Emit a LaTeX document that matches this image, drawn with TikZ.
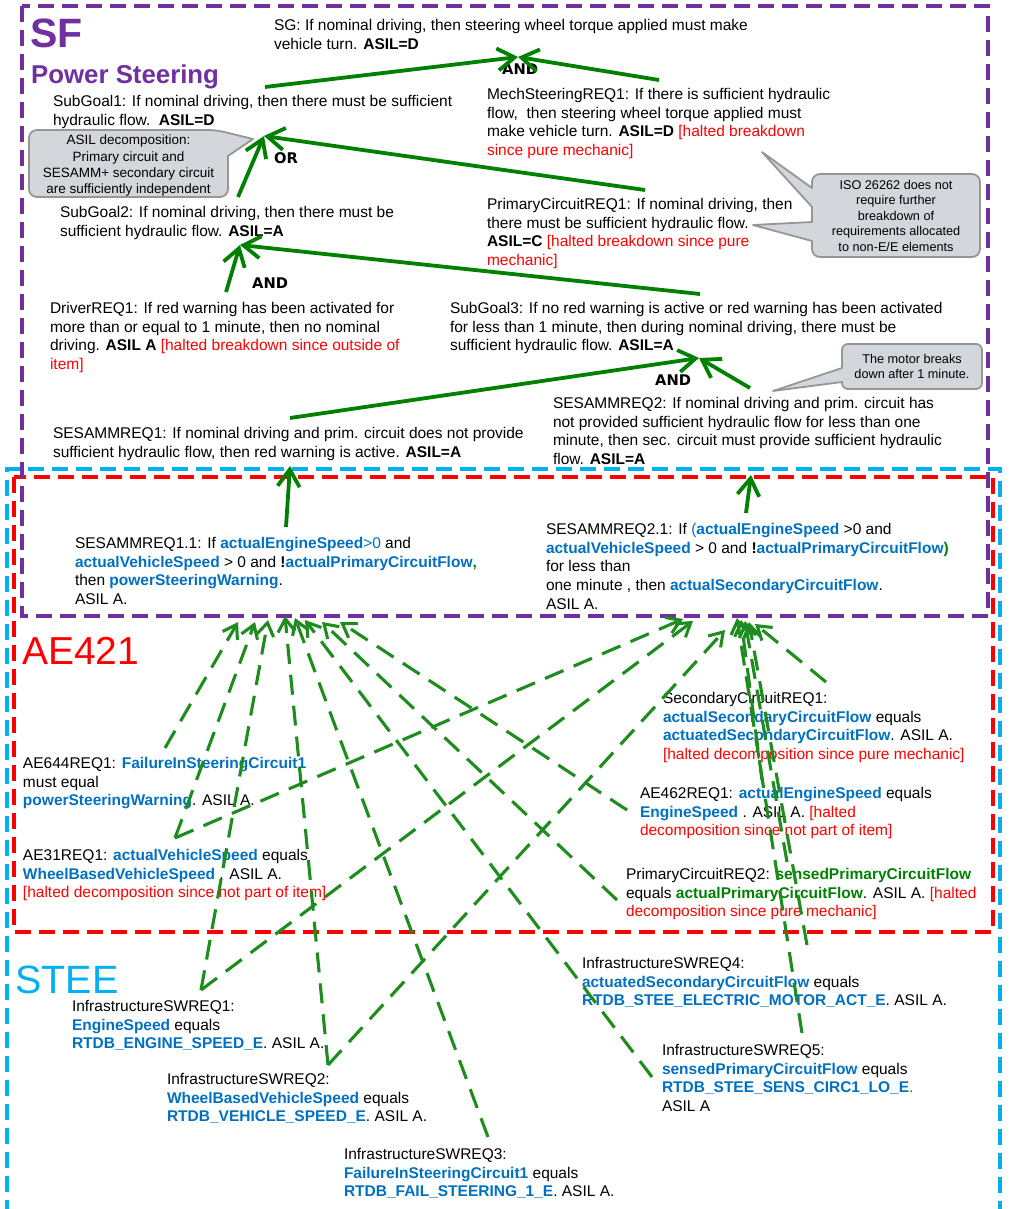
\documentclass[tikz,border=0pt]{standalone}
\usepackage{fontspec}
\setmainfont{Liberation Sans}
\newfontfamily\lblfont{DejaVu Sans}
\usetikzlibrary{arrows.meta}
\definecolor{sfpurple}{RGB}{112,48,160}
\definecolor{aered}{RGB}{255,0,0}
\definecolor{steecyan}{RGB}{0,176,240}
\definecolor{arrgreen}{RGB}{0,128,0}
\definecolor{dashgreen}{RGB}{30,140,30}
\definecolor{varblue}{RGB}{0,112,192}
\definecolor{vargreen}{RGB}{0,128,0}
\definecolor{notered}{RGB}{255,0,0}
\definecolor{callfill}{RGB}{211,214,219}
\definecolor{callline}{RGB}{150,150,150}
\newcommand{\varb}[1]{\textcolor{varblue}{\textbf{#1}}}
\newcommand{\varg}[1]{\textcolor{vargreen}{\textbf{#1}}}
\newcommand{\halt}[1]{\textcolor{notered}{#1}}
\tikzset{
 txt/.style={anchor=north west, inner sep=0pt, outer sep=0pt, align=left, font=\fontsize{15.5}{18.8}\selectfont},
 lbl/.style={anchor=north west, inner sep=0pt, font=\lblfont\bfseries\fontsize{14.7}{16}\selectfont},
 calltxt/.style={anchor=north, inner sep=0pt, align=center, font=\fontsize{12.7}{15.5}\selectfont},
 callout/.style={fill=callfill, draw=callline, line width=1.8pt, line join=round},
 boxline/.style={line width=3.1pt, dash pattern=on 16pt off 8pt},
 solarr/.style={draw=arrgreen, line width=3.8pt, -{Straight Barb[length=17pt,width=22pt]}},
 dasharr/.style={draw=dashgreen, line width=3.1pt, dash pattern=on 20pt off 11pt, -{Straight Barb[length=13pt,width=17pt]}},
}
\begin{document}
\begin{tikzpicture}[x=1pt,y=-1pt]
\path[use as bounding box, fill=white] (0,0) rectangle (1009,1209);

% ---------- boundary boxes ----------
\draw[boxline, draw=steecyan] (7,1240) -- (7,469) -- (1000,469) -- (1000,1240);
\draw[boxline, draw=aered] (14,477) rectangle (993,932);
\draw[boxline, draw=sfpurple] (22,6) rectangle (988,616);

% ---------- titles ----------
\node[anchor=north west, inner sep=0pt, text=sfpurple, font=\bfseries\fontsize{41}{44}\selectfont] (sf) at (30,19) {SF};
\node[anchor=north west, inner sep=0pt, text=sfpurple, font=\bfseries\fontsize{25.8}{28}\selectfont] (ps) at (31,65) {Power Steering};
\node[anchor=north west, inner sep=0pt, text=aered, font=\fontsize{39}{44}\selectfont] (ae) at (22,637) {AE421};
\node[anchor=north west, inner sep=0pt, text=steecyan, font=\fontsize{39.5}{44}\selectfont] (stee) at (15,966) {STEE};

% ---------- callouts ----------
\draw[callout] (29,163) [rounded corners=8pt] -- (29,130) -- (216,130) [sharp corners] -- (253,139) -- (228,156) [rounded corners=8pt] -- (228,197) -- (29,197) -- cycle;
\node[calltxt, font=\fontsize{13.5}{16.3}\selectfont] (c1) at (128.5,135) {ASIL decomposition:\\Primary circuit and\\SESAMM+ secondary circuit\\are sufficiently independent};

\draw[callout] (812,214) [sharp corners] -- (812,222) -- (753,225) -- (812,241) [rounded corners=8pt] -- (812,257) -- (980,257) -- (980,174) -- (812,174) [sharp corners] -- (812,188) -- (762,152) -- (812,207) -- cycle;
\node[calltxt] (c2) at (896,180) {ISO 26262 does not\\require further\\breakdown of\\requirements allocated\\to non-E/E elements};

\draw[callout] (842,360) [rounded corners=6pt] -- (842,344) -- (982,344) -- (982,389) -- (842,389) [sharp corners] -- (842,382) -- (773,391) -- (842,368) -- cycle;
\node[calltxt] (c3) at (912,354) {The motor breaks\\down after 1 minute.};

% ---------- SF requirements ----------
\node[txt] (sg) at (274,19) {SG: If nominal driving, then steering wheel torque applied must make\\vehicle turn. \textbf{ASIL=D}};
\node[txt] (sg1) at (53,95) {SubGoal1: If nominal driving, then there must be sufficient\\hydraulic flow.\ \ \textbf{ASIL=D}};
\node[txt] (mech) at (487,88) {MechSteeringREQ1: If there is sufficient hydraulic\\flow,\ \ then steering wheel torque applied must\\make vehicle turn. \textbf{ASIL=D} \halt{[halted breakdown}\\\halt{since pure mechanic]}};
\node[txt] (sg2) at (60,206) {SubGoal2: If nominal driving, then there must be\\sufficient hydraulic flow. \textbf{ASIL=A}};
\node[txt] (pc1) at (487,198) {PrimaryCircuitREQ1: If nominal driving, then\\there must be sufficient hydraulic flow.\\\textbf{ASIL=C} \halt{[halted breakdown since pure}\\\halt{mechanic]}};
\node[txt] (drv) at (50,302) {DriverREQ1: If red warning has been activated for\\more than or equal to 1 minute, then no nominal\\driving. \textbf{ASIL A} \halt{[halted breakdown since outside of}\\\halt{item]}};
\node[txt] (sg3) at (450,302) {SubGoal3: If no red warning is active or red warning has been activated\\for less than 1 minute, then during nominal driving, there must be\\sufficient hydraulic flow. \textbf{ASIL=A}};
\node[txt] (ses1) at (53,427) {SESAMMREQ1: If nominal driving and prim. circuit does not provide\\sufficient hydraulic flow, then red warning is active. \textbf{ASIL=A}};
\node[txt] (ses2) at (553,397) {SESAMMREQ2: If nominal driving and prim. circuit has\\not provided sufficient hydraulic flow for less than one\\minute, then sec. circuit must provide sufficient hydraulic\\flow. \textbf{ASIL=A}};

% ---------- AE421 requirements ----------
\node[txt] (ses11) at (75,537) {SESAMMREQ1.1: If \varb{actualEngineSpeed}\textcolor{varblue}{>0} and\\\varb{actualVehicleSpeed} > 0 and \textbf{!}\varb{actualPrimaryCircuitFlow}\textcolor{vargreen}{\textbf{,}}\\then \varb{powerSteeringWarning}.\\ASIL A.};
\node[txt] (ses21) at (546,523) {SESAMMREQ2.1: If \textcolor{varblue}{(}\varb{actualEngineSpeed} >0 and\\\varb{actualVehicleSpeed} > 0 and \textbf{!}\varb{actualPrimaryCircuitFlow}\textcolor{vargreen}{\textbf{)}}\\for less than\\one minute , then \varb{actualSecondaryCircuitFlow}.\\ASIL A.};
\node[txt] (scr1) at (663,692) {SecondaryCircuitREQ1:\\\varb{actualSecondaryCircuitFlow} equals\\\varb{actuatedSecondaryCircuitFlow}. ASIL A.\\\halt{[halted decomposition since pure mechanic]}};
\node[txt] (ae644) at (23,757) {AE644REQ1: \varb{FailureInSteeringCircuit1}\\must equal\\\varb{powerSteeringWarning}. ASIL A.};
\node[txt] (ae462) at (640,787) {AE462REQ1: \varb{actualEngineSpeed} equals\\\varb{EngineSpeed} . ASIL A. \halt{[halted}\\\halt{decomposition since not part of item]}};
\node[txt] (ae31) at (23,849) {AE31REQ1: \varb{actualVehicleSpeed} equals\\\varb{WheelBasedVehicleSpeed} . ASIL A.\\\halt{[halted decomposition since not part of item]}};
\node[txt] (pc2) at (626,868) {PrimaryCircuitREQ2: \varg{sensedPrimaryCircuitFlow}\\equals \varg{actualPrimaryCircuitFlow}. ASIL A. \halt{[halted}\\\halt{decomposition since pure mechanic]}};

% ---------- STEE requirements ----------
\node[txt] (sw1) at (72,1000) {InfrastructureSWREQ1:\\\varb{EngineSpeed} equals\\\varb{RTDB\_ENGINE\_SPEED\_E}. ASIL A.};
\node[txt] (sw2) at (167,1073) {InfrastructureSWREQ2:\\\varb{WheelBasedVehicleSpeed} equals\\\varb{RTDB\_VEHICLE\_SPEED\_E}. ASIL A.};
\node[txt] (sw3) at (344,1148) {InfrastructureSWREQ3:\\\varb{FailureInSteeringCircuit1} equals\\\varb{RTDB\_FAIL\_STEERING\_1\_E}. ASIL A.};
\node[txt] (sw4) at (582,957) {InfrastructureSWREQ4:\\\varb{actuatedSecondaryCircuitFlow} equals\\\varb{RTDB\_STEE\_ELECTRIC\_MOTOR\_ACT\_E}. ASIL A.};
\node[txt] (sw5) at (662,1044) {InfrastructureSWREQ5:\\\varb{sensedPrimaryCircuitFlow} equals\\\varb{RTDB\_STEE\_SENS\_CIRC1\_LO\_E}\textcolor{vargreen}{.}\\ASIL A};

% ---------- gate labels ----------
\node[lbl] (and1) at (502,64) {AND};
\node[lbl] (or1) at (274,152) {OR};
\node[lbl] (and2) at (252,278) {AND};
\node[lbl] (and3) at (655,375) {AND};

% ---------- connector end points ----------
\coordinate (sg-in) at (518,57);
\coordinate (sg1-out) at (265,87);
\coordinate (mech-out) at (659,80);
\coordinate (sg1-in) at (264,136);
\coordinate (pc1-out) at (645,190);
\coordinate (sg2-out) at (238,197);
\coordinate (sg2-in) at (240,245);
\coordinate (sg3-out) at (700,294);
\coordinate (drv-out) at (226,292);
\coordinate (sg3-in) at (699,358);
\coordinate (ses1-out) at (290,418);
\coordinate (ses2-out) at (750,388);
\coordinate (ses1-in) at (290,466);
\coordinate (ses11-out) at (286,527);
\coordinate (ses2-in) at (751,475);
\coordinate (ses21-out) at (746,513);

% solid refinement arrows
\draw[solarr] (sg1-out) -- (sg-in);
\draw[solarr] (mech-out) -- (sg-in);
\draw[solarr] (pc1-out) -- (sg1-in);
\draw[solarr] (sg2-out) -- (sg1-in);
\draw[solarr] (sg3-out) -- (sg2-in);
\draw[solarr] (drv-out) -- (sg2-in);
\draw[solarr] (ses1-out) -- (sg3-in);
\draw[solarr] (ses2-out) -- (sg3-in);
\draw[solarr] (ses11-out) -- (ses1-in);
\draw[solarr] (ses21-out) -- (ses2-in);

% dashed decomposition arrows: attach points
\coordinate (ae644-up) at (165,748);
\coordinate (ae31-up) at (175,838);
\coordinate (sw1-up) at (201,990);
\coordinate (sw2-up) at (328,1065);
\coordinate (sw3-up) at (488,1137);
\coordinate (sw5-upl) at (652,1077);
\coordinate (sw5-upr) at (802,1033);
\coordinate (pc2-upl) at (617,900);
\coordinate (pc2-upr) at (787,862);
\coordinate (ae462-upl) at (627,810);
\coordinate (ae462-upr) at (762,780);
\coordinate (sw4-up) at (807,945);
\coordinate (scr1-up) at (826,682);
% tips on SESAMMREQ1.1
\coordinate (a1) at (238,622);
\coordinate (a2) at (255,622);
\coordinate (a3) at (268,620);
\coordinate (a4) at (285,616);
\coordinate (a5) at (295,618);
\coordinate (a6) at (305,620);
\coordinate (a7) at (322,622);
\coordinate (a8) at (340,622);
% tips on SESAMMREQ2.1
\coordinate (b1) at (683,619);
\coordinate (b2) at (693,621);
\coordinate (b3) at (725,630);
\coordinate (b4) at (737,618);
\coordinate (b5) at (741,620);
\coordinate (b6) at (745,621);
\coordinate (b7) at (749,622);
\coordinate (b8) at (755,624);

\draw[dasharr] (ae644-up) -- (a1);
\draw[dasharr] (ae31-up) -- (a2);
\draw[dasharr] (sw1-up) -- (a3);
\draw[dasharr] (sw2-up) -- (a4);
\draw[dasharr] (sw3-up) -- (a5);
\draw[dasharr] (sw5-upl) -- (a6);
\draw[dasharr] (pc2-upl) -- (a7);
\draw[dasharr] (ae462-upl) -- (a8);

\draw[dasharr] (ae31-up) -- (b1);
\draw[dasharr] (sw1-up) -- (b2);
\draw[dasharr] (sw2-up) -- (b3);
\draw[dasharr] (sw5-upr) -- (b4);
\draw[dasharr] (ae462-upr) -- (b5);
\draw[dasharr] (pc2-upr) -- (b6);
\draw[dasharr] (sw4-up) -- (b7);
\draw[dasharr] (scr1-up) -- (b8);
\end{tikzpicture}
\end{document}
